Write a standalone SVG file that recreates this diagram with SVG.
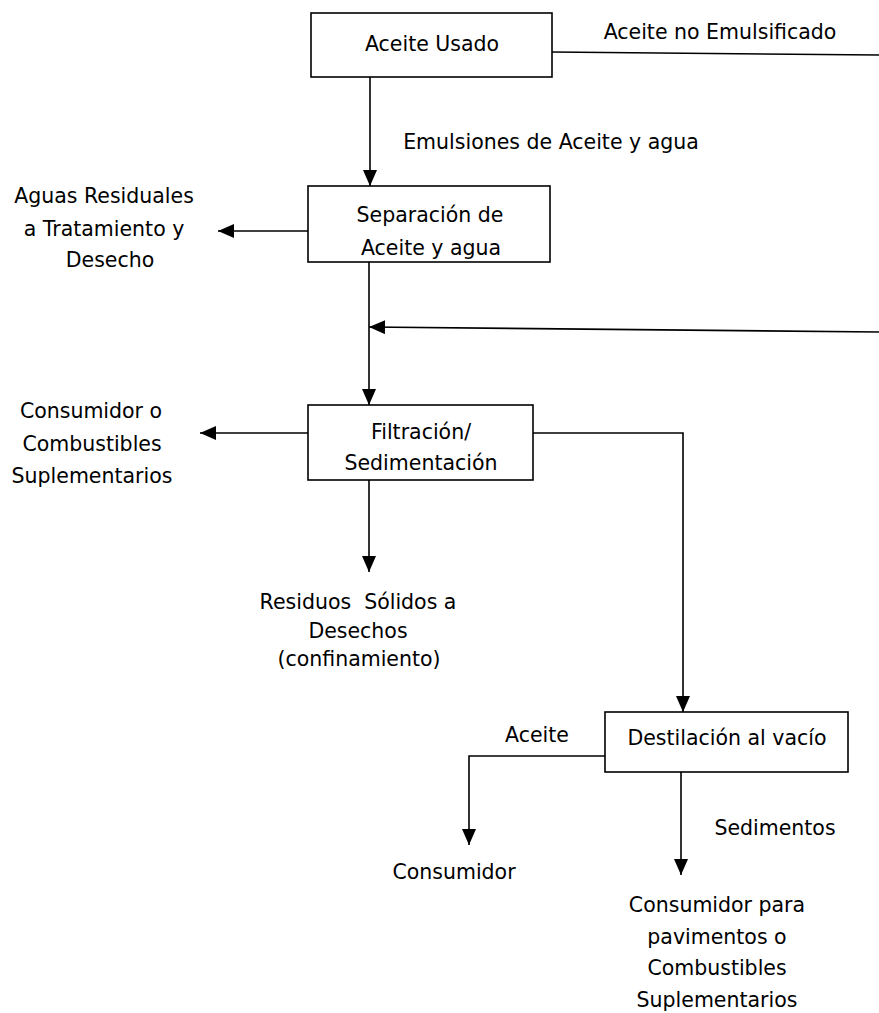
<svg xmlns="http://www.w3.org/2000/svg" width="879" height="1013" viewBox="0 0 879 1013">
  <style>
    .box { fill: #ffffff; stroke: #000000; stroke-width: 1.6; }
    .line { fill: none; stroke: #000000; stroke-width: 1.6; }
    text { font-family: "DejaVu Sans", "Liberation Sans", sans-serif; font-size: 20.5px; fill: #000000; text-anchor: middle; dominant-baseline: central; }
  </style>
  <defs>
    <marker id="arrow" viewBox="0 0 16 14" refX="16" refY="7" markerWidth="16" markerHeight="14" markerUnits="userSpaceOnUse" orient="auto">
      <path d="M0,0 L16,7 L0,14 Z" fill="#000000"/>
    </marker>
  </defs>
  <rect width="879" height="1013" fill="#ffffff"/>

  <g id="connectors">
    <!-- Aceite no Emulsificado: bypass to the right edge -->
    <path class="line" d="M552,52 L879,55"/>
    <!-- Aceite Usado -> Separación -->
    <path class="line" d="M370,77 L370,186" marker-end="url(#arrow)"/>
    <!-- Separación -> Aguas Residuales -->
    <path class="line" d="M308,231 L218,231" marker-end="url(#arrow)"/>
    <!-- Separación -> Filtración -->
    <path class="line" d="M369,262 L369,405" marker-end="url(#arrow)"/>
    <!-- return of non-emulsified oil -->
    <path class="line" d="M879,332 L369,327" marker-end="url(#arrow)"/>
    <!-- Filtración -> Consumidor o Combustibles -->
    <path class="line" d="M308,433 L200,433" marker-end="url(#arrow)"/>
    <!-- Filtración -> Residuos Sólidos -->
    <path class="line" d="M369,480 L369,572" marker-end="url(#arrow)"/>
    <!-- Filtración -> Destilación -->
    <path class="line" d="M533,433 L683,433 L683,712" marker-end="url(#arrow)"/>
    <!-- Destilación -> Consumidor (Aceite) -->
    <path class="line" d="M605,756 L469,756 L469,845" marker-end="url(#arrow)"/>
    <!-- Destilación -> Consumidor para pavimentos (Sedimentos) -->
    <path class="line" d="M681,772 L681,875" marker-end="url(#arrow)"/>
  </g>

  <g id="aceite-usado">
    <rect class="box" x="311" y="13" width="241" height="64"/>
    <text x="432" y="44">Aceite Usado</text>
  </g>

  <g id="separacion">
    <rect class="box" x="308" y="186" width="242" height="76"/>
    <text x="430" y="215">Separación de</text>
    <text x="431" y="248">Aceite y agua</text>
  </g>

  <g id="filtracion">
    <rect class="box" x="308" y="405" width="225" height="75"/>
    <text x="421" y="432">Filtración/</text>
    <text x="421" y="463">Sedimentación</text>
  </g>

  <g id="destilacion">
    <rect class="box" x="605" y="712" width="243" height="60"/>
    <text x="727" y="738">Destilación al vacío</text>
  </g>

  <g id="labels">
    <text x="720" y="32">Aceite no Emulsificado</text>
    <text x="551" y="142">Emulsiones de Aceite y agua</text>
    <text x="104" y="196">Aguas Residuales</text>
    <text x="104" y="229">a Tratamiento y</text>
    <text x="110" y="260">Desecho</text>
    <text x="91" y="411">Consumidor o</text>
    <text x="92" y="444">Combustibles</text>
    <text x="92" y="476">Suplementarios</text>
    <text x="358" y="602">Residuos&#160;&#160;Sólidos a</text>
    <text x="358" y="631">Desechos</text>
    <text x="359" y="659">(confinamiento)</text>
    <text x="537" y="735">Aceite</text>
    <text x="454" y="872">Consumidor</text>
    <text x="775" y="828">Sedimentos</text>
    <text x="717" y="905">Consumidor para</text>
    <text x="717" y="937">pavimentos o</text>
    <text x="717" y="968">Combustibles</text>
    <text x="717" y="1000">Suplementarios</text>
  </g>
</svg>
